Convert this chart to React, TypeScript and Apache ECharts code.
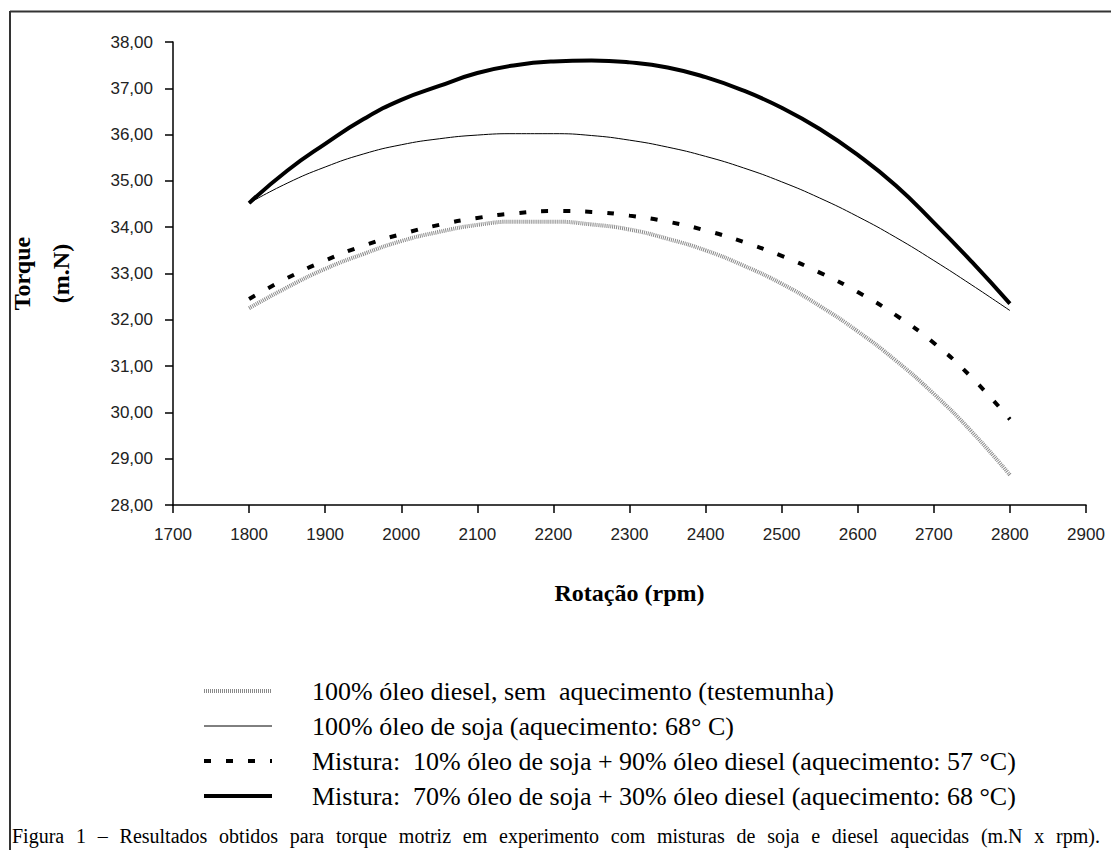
import React, { useEffect, useRef } from "react";
import * as echarts from "echarts";

const RPM = [1800, 1850, 1900, 1950, 2000, 2050, 2100, 2150, 2200, 2250, 2300, 2350, 2400, 2450, 2500, 2550, 2600, 2650, 2700, 2750, 2800];
const DIESEL_100 = [32.25, 32.7, 33.1, 33.42, 33.7, 33.9, 34.05, 34.12, 34.12, 34.06, 33.95, 33.75, 33.5, 33.17, 32.78, 32.3, 31.75, 31.12, 30.4, 29.58, 28.65];
const SOJA_100 = [34.52, 34.95, 35.3, 35.58, 35.78, 35.91, 35.99, 36.02, 36.02, 35.98, 35.88, 35.73, 35.53, 35.28, 34.98, 34.63, 34.23, 33.78, 33.28, 32.75, 32.2];
const MIX_10 = [32.45, 32.9, 33.28, 33.6, 33.85, 34.05, 34.2, 34.3, 34.35, 34.33, 34.25, 34.12, 33.93, 33.68, 33.38, 33.02, 32.6, 32.1, 31.5, 30.75, 29.85];
const MIX_70 = [34.52, 35.22, 35.8, 36.33, 36.75, 37.05, 37.33, 37.5, 37.58, 37.6, 37.56, 37.45, 37.24, 36.95, 36.58, 36.12, 35.56, 34.9, 34.1, 33.25, 32.35];

const NAMES = [
  "100% óleo diesel, sem  aquecimento (testemunha)",
  "100% óleo de soja (aquecimento: 68° C)",
  "Mistura:  10% óleo de soja + 90% óleo diesel (aquecimento: 57 °C)",
  "Mistura:  70% óleo de soja + 30% óleo diesel (aquecimento: 68 °C)",
];
const SERIES_VALUES = [DIESEL_100, SOJA_100, MIX_10, MIX_70];

const X_MIN = 1700, X_MAX = 2900, X_STEP = 100;
const Y_MIN = 28, Y_MAX = 38, Y_STEP = 1;

const X_TITLE = "Rotação (rpm)";
const Y_TITLE = "Torque\n(m.N)";
const CAPTION = "Figura 1 – Resultados obtidos para torque motriz em experimento com misturas de soja e diesel aquecidas (m.N x rpm).";

const LINE_STYLES: any[] = [
  { color: "#8a8a8a", width: 4, type: [1, 1] },
  { color: "#000", width: 1, type: "solid" },
  { color: "#000", width: 4, type: [7, 15] },
  { color: "#000", width: 4, type: "solid" },
];

function captionWords(fontSize: number, left: number, right: number) {
  const words = CAPTION.split(" ");
  const ctx = document.createElement("canvas").getContext("2d");
  const font = `${fontSize}px "Liberation Serif"`;
  let widths = words.map((w) => w.length * fontSize * 0.45);
  if (ctx) {
    ctx.font = font;
    widths = words.map((w) => ctx.measureText(w).width);
  }
  const total = widths.reduce((a, b) => a + b, 0);
  const gap = (right - left - total) / (words.length - 1);
  let x = left;
  return words.map((w, i) => {
    const el = {
      type: "text",
      x,
      y: 836,
      style: { text: w, fontSize, fontFamily: "Liberation Serif", fill: "#000", verticalAlign: "middle" },
    };
    x += widths[i] + gap;
    return el;
  });
}

export default function App() {
  const ref = useRef<HTMLDivElement>(null);
  useEffect(() => {
    if (!ref.current) return;
    const chart = echarts.init(ref.current, null, { renderer: "svg" });
    const series = SERIES_VALUES.map((vals, i) => ({
      name: NAMES[i],
      type: "line",
      data: RPM.map((r, j) => [r, vals[j]]),
      smooth: true,
      symbol: "none",
      showSymbol: false,
      lineStyle: LINE_STYLES[i],
      itemStyle: { color: LINE_STYLES[i].color },
      z: 2 + i,
    }));
    chart.setOption({
      animation: false,
      backgroundColor: "#fff",
      grid: { left: 173, right: 25, top: 42, bottom: 345, outerBoundsMode: "none", containLabel: false },
      xAxis: {
        type: "value",
        min: X_MIN,
        max: X_MAX,
        interval: X_STEP,
        name: X_TITLE,
        nameLocation: "middle",
        nameGap: 76,
        nameTextStyle: { fontFamily: "Liberation Serif", fontWeight: "bold", fontSize: 24, color: "#000" },
        axisLine: { lineStyle: { color: "#000", width: 1.5 } },
        axisTick: { length: 8, lineStyle: { color: "#000", width: 1.5 } },
        axisLabel: { margin: 21, fontFamily: "Liberation Sans", fontSize: 17, color: "#222", formatter: (v: number) => String(v) },
        splitLine: { show: false },
      },
      yAxis: {
        type: "value",
        min: Y_MIN,
        max: Y_MAX,
        interval: Y_STEP,
        name: Y_TITLE,
        nameLocation: "middle",
        nameGap: 93,
        nameTextStyle: { fontFamily: "Liberation Serif", fontWeight: "bold", fontSize: 24, color: "#000", lineHeight: 39 },
        axisLine: { show: true, lineStyle: { color: "#000", width: 1.5 } },
        axisTick: { show: true, length: 8, lineStyle: { color: "#000", width: 1.5 } },
        axisLabel: {
          margin: 20,
          fontFamily: "Liberation Sans",
          fontSize: 17,
          color: "#222",
          formatter: (v: number) => v.toFixed(2).replace(".", ","),
        },
        splitLine: { show: false },
      },
      legend: {
        orient: "vertical",
        left: 197,
        top: 673,
        itemWidth: 68,
        itemHeight: 12,
        itemGap: 9,
        selectedMode: false,
        data: NAMES.map((n, i) => ({ name: n, itemStyle: { opacity: 0 }, lineStyle: LINE_STYLES[i] })),
        textStyle: { fontFamily: "Liberation Serif", fontSize: 26, color: "#000", padding: [0, 0, 0, 35] },
      },
      graphic: [
        { type: "line", shape: { x1: 10, y1: 11.5, x2: 1111, y2: 11.5 }, style: { stroke: "#333", lineWidth: 2 } },
        { type: "line", shape: { x1: 10, y1: 11, x2: 10, y2: 850 }, style: { stroke: "#333", lineWidth: 2 } },
        ...captionWords(20, 12, 1100),
      ],
      series,
    });
    return () => chart.dispose();
  }, []);
  return <div ref={ref} style={{ position: "absolute", left: 0, top: 0, width: 1111, height: 850 }} />;
}
